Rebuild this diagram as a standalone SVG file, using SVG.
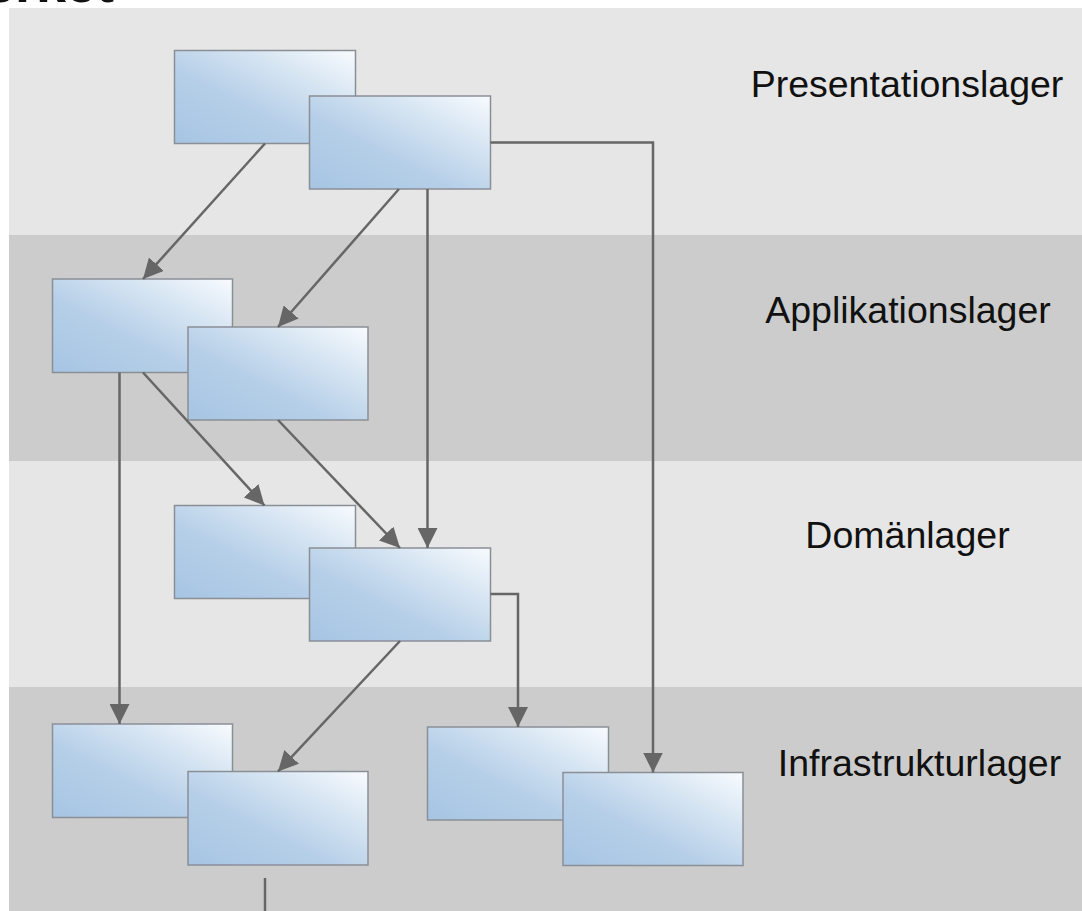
<svg xmlns="http://www.w3.org/2000/svg" width="1082" height="911" viewBox="0 0 1082 911">
  <style>
    .band-light { fill: #e6e6e6; }
    .band-dark { fill: #cccccc; }
    .node rect { fill: url(#nodeGrad); stroke: #8a8f96; stroke-width: 1.5; }
    .label { font-family: "Liberation Sans", Arial, sans-serif; font-size: 37.5px; fill: #111; text-anchor: middle; }
    .conn { fill: none; stroke: #666666; stroke-width: 2.5; }
    .title { font-family: "Liberation Sans", Arial, sans-serif; font-size: 54px; font-weight: bold; fill: #111; }
  </style>
  <defs>
    <linearGradient id="nodeGrad" x1="0" y1="1" x2="1" y2="0">
      <stop offset="0" stop-color="#a6c5e3"/>
      <stop offset="0.4" stop-color="#b6cfe8"/>
      <stop offset="0.72" stop-color="#d8e6f3"/>
      <stop offset="1" stop-color="#f8fbfe"/>
    </linearGradient>
    <marker id="arrow" markerUnits="userSpaceOnUse" viewBox="0 0 20 20" markerWidth="20" markerHeight="20" refX="20" refY="10" orient="auto">
      <path d="M0,0 L20,10 L0,20 z" fill="#666666"/>
    </marker>
  </defs>

  <rect x="0" y="0" width="1082" height="911" fill="#ffffff"/>
  <text class="title" x="-15" y="2">erket</text>

  <g id="bands">
    <rect class="band-light" x="9" y="8" width="1073" height="227"/>
    <rect class="band-dark" x="9" y="235" width="1073" height="226"/>
    <rect class="band-light" x="9" y="461" width="1073" height="226"/>
    <rect class="band-dark" x="9" y="687" width="1073" height="224"/>
  </g>

  <g id="labels">
    <text class="label" x="907" y="97">Presentationslager</text>
    <text class="label" x="908" y="323">Applikationslager</text>
    <text class="label" x="907.5" y="548">Domänlager</text>
    <text class="label" x="919.5" y="776">Infrastrukturlager</text>
  </g>

  <g id="nodes">
    <g id="node-a" class="node"><rect x="174.5" y="50.5" width="181" height="93"/></g>
    <g id="node-b" class="node"><rect x="309.5" y="96" width="181" height="93"/></g>
    <g id="node-c" class="node"><rect x="52.5" y="279" width="180" height="93.5"/></g>
    <g id="node-d" class="node"><rect x="188" y="327" width="180" height="93"/></g>
    <g id="node-e" class="node"><rect x="174.5" y="505.5" width="181" height="93"/></g>
    <g id="node-f" class="node"><rect x="309.5" y="548" width="181" height="93"/></g>
    <g id="node-g" class="node"><rect x="52.5" y="724" width="180" height="93.5"/></g>
    <g id="node-h" class="node"><rect x="188" y="771.5" width="180" height="93.5"/></g>
    <g id="node-i" class="node"><rect x="427.5" y="727" width="181" height="93"/></g>
    <g id="node-j" class="node"><rect x="563" y="772.5" width="180" height="93"/></g>
  </g>

  <g id="connectors">
    <path class="conn" d="M265,143.5 L143,279" marker-end="url(#arrow)"/>
    <path class="conn" d="M399,189 L278,327" marker-end="url(#arrow)"/>
    <path class="conn" d="M427.5,189 L427.5,548" marker-end="url(#arrow)"/>
    <path class="conn" d="M490.5,142.5 L653,142.5 L653,772.5" marker-end="url(#arrow)"/>
    <path class="conn" d="M119.5,372.5 L119.5,724" marker-end="url(#arrow)"/>
    <path class="conn" d="M143,372.5 L264.5,505.5" marker-end="url(#arrow)"/>
    <path class="conn" d="M278,420 L400,548" marker-end="url(#arrow)"/>
    <path class="conn" d="M490.5,594 L518,594 L518,727" marker-end="url(#arrow)"/>
    <path class="conn" d="M400,641 L278,771.5" marker-end="url(#arrow)"/>
    <path class="conn" d="M265,878 L265,911"/>
  </g>
</svg>
